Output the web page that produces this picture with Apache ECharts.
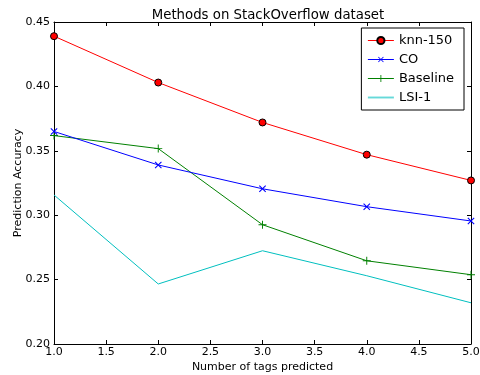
<!DOCTYPE html>
<html><head><meta charset="utf-8">
<script src="https://cdn.jsdelivr.net/npm/echarts@6/dist/echarts.min.js"></script>
<style>html,body{margin:0;padding:0;background:#fff}#c{width:480px;height:375px}</style>
</head><body><div id="c"></div>
<script>
const xValues = [1, 2, 3, 4, 5];
const knn150 = [0.439, 0.403, 0.372, 0.347, 0.327];
const co = [0.365, 0.339, 0.3205, 0.3066, 0.2955];
const baseline = [0.3618, 0.3517, 0.2926, 0.2646, 0.2538];
const lsi1 = [0.3157, 0.2466, 0.2724, 0.2530, 0.2320];
const seriesNames = ['knn-150', 'CO', 'Baseline', 'LSI-1'];

const FONT = 'DejaVu Sans';
const pair = arr => xValues.map((x, i) => [x, arr[i]]);
const plusPath = 'path://M4.4,0H5.6V4.4H10V5.6H5.6V10H4.4V5.6H0V4.4H4.4Z';

const chart = echarts.init(document.getElementById('c'), null, {renderer: 'canvas'});
const axisCommon = {
  axisLine: {show: true, onZero: false, lineStyle: {color: '#000', width: 1}},
  axisTick: {show: true, inside: true, length: 4, lineStyle: {color: '#000'}},
  splitLine: {show: false}
};
chart.setOption({
  animation: false,
  textStyle: {fontFamily: FONT},
  title: {
    text: 'Methods on StackOverflow dataset', left: 263, textAlign: 'center', top: 4,
    textStyle: {fontFamily: FONT, fontSize: 13.3, fontWeight: 'normal', color: '#000'}
  },
  grid: {left: 54, right: 9, top: 22, bottom: 31, containLabel: false, outerBoundsMode: 'none'},
  legend: {
    data: [
      {name: seriesNames[0]},
      {name: seriesNames[1]},
      {name: seriesNames[2]},
      {name: seriesNames[3], icon: 'path://M0,0H30V2.2H0Z', itemStyle: {color: '#66d9d9'}}
    ],
    orient: 'vertical', right: 16, top: 28,
    borderColor: '#000', borderWidth: 1, padding: [6, 10, 6, 6], itemGap: 6,
    itemWidth: 26, itemHeight: 9,
    lineStyle: {width: 1},
    textStyle: {fontFamily: FONT, fontSize: 13, color: '#000'}
  },
  xAxis: [
    Object.assign({}, axisCommon, {
      type: 'value', min: 1, max: 5, interval: 0.5, position: 'bottom',
      name: 'Number of tags predicted', nameLocation: 'middle', nameGap: 18, nameMoveOverlap: false,
      nameTextStyle: {fontFamily: FONT, fontSize: 11, color: '#000'},
      axisLabel: {fontFamily: FONT, fontSize: 11, color: '#000', margin: 3, formatter: v => v.toFixed(1)}
    }),
    Object.assign({}, axisCommon, {
      type: 'value', min: 1, max: 5, interval: 0.5, position: 'top', axisLabel: {show: false}
    })
  ],
  yAxis: [
    Object.assign({}, axisCommon, {
      type: 'value', min: 0.2, max: 0.45, interval: 0.05, position: 'left',
      name: 'Prediction Accuracy', nameLocation: 'middle', nameGap: 30, nameMoveOverlap: false,
      nameTextStyle: {fontFamily: FONT, fontSize: 11, color: '#000'},
      axisLabel: {fontFamily: FONT, fontSize: 11, color: '#000', margin: 4, formatter: v => v.toFixed(2)}
    }),
    Object.assign({}, axisCommon, {
      type: 'value', min: 0.2, max: 0.45, interval: 0.05, position: 'right', axisLabel: {show: false}
    })
  ],
  series: [
    {
      name: seriesNames[0], type: 'line', data: pair(knn150),
      lineStyle: {color: '#ff0000', width: 1}, itemStyle: {color: '#ff0000', borderColor: '#000', borderWidth: 1},
      symbol: 'circle', symbolSize: 7, showAllSymbol: true, z: 5
    },
    {
      name: seriesNames[1], type: 'line', data: pair(co),
      lineStyle: {color: '#0000ff', width: 1}, itemStyle: {color: '#0000ff'},
      symbol: plusPath, symbolSize: 9, symbolRotate: 45, showAllSymbol: true, z: 4
    },
    {
      name: seriesNames[2], type: 'line', data: pair(baseline),
      lineStyle: {color: '#008000', width: 1}, itemStyle: {color: '#008000'},
      symbol: plusPath, symbolSize: 8, showAllSymbol: true, z: 3
    },
    {
      name: seriesNames[3], type: 'line', data: pair(lsi1),
      lineStyle: {color: '#00bfbf', width: 1}, itemStyle: {color: '#00bfbf'},
      symbol: 'none', z: 2
    }
  ]
});
</script></body></html>
